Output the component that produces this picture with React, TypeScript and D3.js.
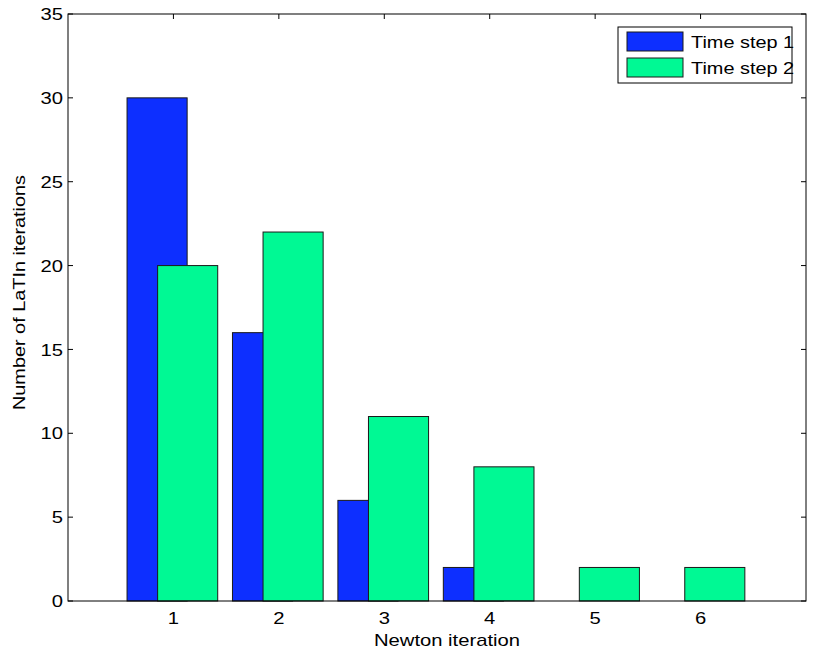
import React from "react";
import * as d3 from "d3";

const categories = [1, 2, 3, 4, 5, 6];
const timeStep1 = [30, 16, 6, 2, 0, 0];
const timeStep2 = [20, 22, 11, 8, 2, 2];
const yTicks = [0, 5, 10, 15, 20, 25, 30, 35];
const seriesNames = ["Time step 1", "Time step 2"];
const seriesColors = ["#0d2fff", "#00f994"];

const W = 823;
const H = 655;
const M = { left: 68, right: 806, top: 14, bottom: 601 };
const FONT = "'Liberation Sans', Arial, Helvetica, sans-serif";
const SX = 1.19;

export default function App() {
  const x = d3.scaleLinear().domain([0, 7]).range([M.left, M.right]);
  const y = d3.scaleLinear().domain([0, 35]).range([M.bottom, M.top]);
  const barW = 0.57;
  const offsets = [-0.44, -0.15];
  const series = [timeStep1, timeStep2];
  const tickLen = 5;

  return (
    <svg
      width={W}
      height={H}
      style={{ position: "absolute", left: 0, top: 0, background: "#fff" }}
      fontFamily={FONT}
    >
      <rect x={0} y={0} width={W} height={H} fill="#fff" />
      {yTicks.map((t) => (
        <g key={"y" + t} stroke="#000" strokeWidth={1}>
          <line x1={M.left} x2={M.left + tickLen} y1={y(t)} y2={y(t)} />
          <line x1={M.right} x2={M.right - tickLen} y1={y(t)} y2={y(t)} />
        </g>
      ))}
      {categories.map((c) => (
        <g key={"x" + c} stroke="#000" strokeWidth={1}>
          <line x1={x(c)} x2={x(c)} y1={M.bottom} y2={M.bottom - tickLen} />
          <line x1={x(c)} x2={x(c)} y1={M.top} y2={M.top + tickLen} />
        </g>
      ))}
      {series.map((vals, si) =>
        vals.map((v, i) =>
          v > 0 ? (
            <rect
              key={si + "-" + i}
              x={x(categories[i] + offsets[si])}
              y={y(v)}
              width={x(barW) - x(0)}
              height={y(0) - y(v)}
              fill={seriesColors[si]}
              stroke="#1a1a1a"
              strokeWidth={1}
            />
          ) : null
        )
      )}
      <rect
        x={M.left}
        y={M.top}
        width={M.right - M.left}
        height={M.bottom - M.top}
        fill="none"
        stroke="#000"
        strokeWidth={1}
      />
      {yTicks.map((t) => (
        <text
          key={"yl" + t}
          transform={`translate(${M.left - 5},${y(t)}) scale(${SX},1)`}
          dy="0.36em"
          textAnchor="end"
          fontSize={17}
          fill="#000"
        >
          {t}
        </text>
      ))}
      {categories.map((c) => (
        <text
          key={"xl" + c}
          transform={`translate(${x(c)},624) scale(${SX},1)`}
          textAnchor="middle"
          fontSize={17}
          fill="#000"
        >
          {c}
        </text>
      ))}
      <text
        transform={`translate(${x(3.5) + 10},646) scale(${SX},1)`}
        textAnchor="middle"
        fontSize={17}
        fill="#000"
      >
        Newton iteration
      </text>
      <text
        transform={`translate(25,292.5) rotate(-90)`}
        textAnchor="middle"
        fontSize={17}
        textLength={235}
        lengthAdjust="spacingAndGlyphs"
        fill="#000"
      >
        Number of LaTIn iterations
      </text>
      <rect x={618} y={27} width={174} height={56} fill="#fff" stroke="none" />
      {seriesNames.map((n, i) => (
        <g key={n}>
          <rect
            x={627}
            y={32 + i * 26}
            width={56}
            height={19}
            fill={seriesColors[i]}
            stroke="#1a1a1a"
            strokeWidth={1}
          />
          <text
            transform={`translate(691,${48 + i * 26}) scale(1.17,1)`}
            fontSize={17}
            fill="#000"
          >
            {n}
          </text>
        </g>
      ))}
      <rect x={618} y={27} width={174} height={56} fill="none" stroke="#000" strokeWidth={1} />
    </svg>
  );
}
